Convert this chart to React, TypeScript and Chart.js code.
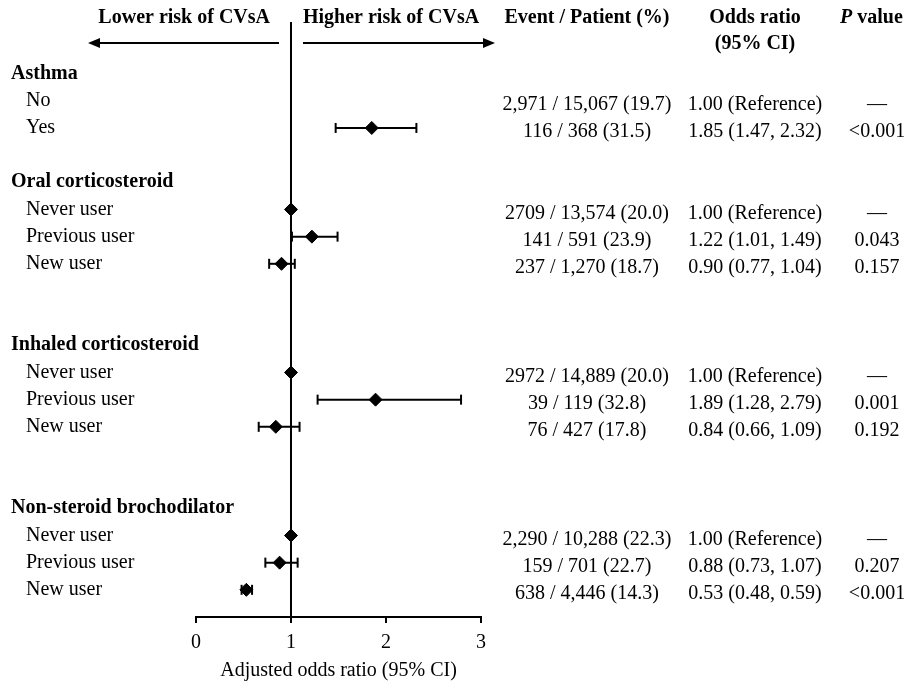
import { useEffect, useRef } from 'react';
import { Chart, registerables } from 'chart.js';

Chart.register(...registerables);

const rowLabels = [
  'Asthma', 'No', 'Yes', '',
  'Oral corticosteroid', 'Never user', 'Previous user', 'New user', '', '',
  'Inhaled corticosteroid', 'Never user', 'Previous user', 'New user', '', '',
  'Non-steroid brochodilator', 'Never user', 'Previous user', 'New user',
];
const headerRows = [0, 4, 10, 16];

const oddsRatio = [null, null, 1.85, null, null, 1.0, 1.22, 0.9, null, null, null, 1.0, 1.89, 0.84, null, null, null, 1.0, 0.88, 0.53];
const ciLower = [null, null, 1.47, null, null, null, 1.01, 0.77, null, null, null, null, 1.28, 0.66, null, null, null, null, 0.73, 0.48];
const ciUpper = [null, null, 2.32, null, null, null, 1.49, 1.04, null, null, null, null, 2.79, 1.09, null, null, null, null, 1.07, 0.59];

const eventPatient = [
  '', '2,971 / 15,067 (19.7)', '116 / 368 (31.5)', '',
  '', '2709 / 13,574 (20.0)', '141 / 591 (23.9)', '237 / 1,270 (18.7)', '', '',
  '', '2972 / 14,889 (20.0)', '39 / 119 (32.8)', '76 / 427 (17.8)', '', '',
  '', '2,290 / 10,288 (22.3)', '159 / 701 (22.7)', '638 / 4,446 (14.3)',
];
const oddsRatioText = [
  '', '1.00 (Reference)', '1.85 (1.47, 2.32)', '',
  '', '1.00 (Reference)', '1.22 (1.01, 1.49)', '0.90 (0.77, 1.04)', '', '',
  '', '1.00 (Reference)', '1.89 (1.28, 2.79)', '0.84 (0.66, 1.09)', '', '',
  '', '1.00 (Reference)', '0.88 (0.73, 1.07)', '0.53 (0.48, 0.59)',
];
const pValueText = [
  '', '\u2014', '<0.001', '',
  '', '\u2014', '0.043', '0.157', '', '',
  '', '\u2014', '0.001', '0.192', '', '',
  '', '\u2014', '0.207', '<0.001',
];

const xTicks = [0, 1, 2, 3];
const xAxisTitle = 'Adjusted odds ratio (95% CI)';
const lowerRiskLabel = 'Lower risk of CVsA';
const higherRiskLabel = 'Higher risk of CVsA';
const eventHeader = 'Event / Patient (%)';
const orHeader = ['Odds ratio', '(95% CI)'];
const pHeader = ['P', ' value'];

const FONT = "'Liberation Serif', 'Times New Roman', serif";
const LABEL_X = 11;
const SUB_LABEL_X = 26;
const EVENT_X = 587;
const OR_X = 755;
const P_X = 877;
const P_HEADER_X = 840;

function drawArrow(ctx: CanvasRenderingContext2D, from: number, to: number, y: number) {
  const dir = Math.sign(to - from);
  const head = 12;
  ctx.beginPath();
  ctx.moveTo(from, y);
  ctx.lineTo(to - dir * head, y);
  ctx.stroke();
  ctx.beginPath();
  ctx.moveTo(to, y);
  ctx.lineTo(to - dir * head, y - 5);
  ctx.lineTo(to - dir * head, y + 5);
  ctx.closePath();
  ctx.fill();
}

export default function App() {
  const ref = useRef<HTMLCanvasElement>(null);

  useEffect(() => {
    const canvas = ref.current;
    if (!canvas) return;

    const diamonds = oddsRatio
      .map((v, i) => (v == null ? null : { x: v, y: i }))
      .filter((p) => p !== null);

    const ciSets: any[] = [];
    ciLower.forEach((lo, i) => {
      const hi = ciUpper[i];
      if (lo == null || hi == null) return;
      ciSets.push({
        type: 'scatter',
        data: [{ x: lo, y: i }, { x: hi, y: i }],
        showLine: true,
        borderColor: '#000',
        borderWidth: 2,
        pointStyle: 'line',
        pointRotation: 90,
        pointRadius: 5,
        pointBorderWidth: 2,
        pointBorderColor: '#000',
        pointBackgroundColor: '#000',
        order: 2,
      });
    });

    const tablePlugin = {
      id: 'forestTable',
      afterDraw(chart: any) {
        const ctx: CanvasRenderingContext2D = chart.ctx;
        const xs = chart.scales.x;
        const ys = chart.scales.y;
        const x1 = xs.getPixelForValue(1);
        ctx.save();
        ctx.fillStyle = '#000';
        ctx.strokeStyle = '#000';
        ctx.textBaseline = 'middle';
        ctx.font = `bold 20px ${FONT}`;
        ctx.textAlign = 'right';
        ctx.fillText(lowerRiskLabel, x1 - 21, 18);
        ctx.textAlign = 'left';
        ctx.fillText(higherRiskLabel, x1 + 12, 18);

        ctx.lineWidth = 2;
        drawArrow(ctx, x1 - 12, x1 - 203, 43);
        drawArrow(ctx, x1 + 12, x1 + 204, 43);

        ctx.textAlign = 'center';
        ctx.fillText(eventHeader, EVENT_X, 18);
        ctx.fillText(orHeader[0], OR_X, 18);
        ctx.fillText(orHeader[1], OR_X, 44);

        ctx.textAlign = 'left';
        ctx.font = `italic bold 20px ${FONT}`;
        ctx.fillText(pHeader[0], P_HEADER_X, 18);
        const pw = ctx.measureText(pHeader[0]).width;
        ctx.font = `bold 20px ${FONT}`;
        ctx.fillText(pHeader[1], P_HEADER_X + pw, 18);

        rowLabels.forEach((label, i) => {
          const yLabel = ys.getPixelForValue(i);
          if (label) {
            const isHeader = headerRows.includes(i);
            ctx.textAlign = 'left';
            ctx.font = `${isHeader ? 'bold ' : ''}20px ${FONT}`;
            ctx.fillText(label, isHeader ? LABEL_X : SUB_LABEL_X, yLabel);
          }
          const y = yLabel + 4;
          ctx.font = `20px ${FONT}`;
          ctx.textAlign = 'center';
          if (eventPatient[i]) ctx.fillText(eventPatient[i], EVENT_X, y);
          if (oddsRatioText[i]) ctx.fillText(oddsRatioText[i], OR_X, y);
          if (pValueText[i]) ctx.fillText(pValueText[i], P_X, y);
        });
        ctx.restore();
      },
    };

    const chart = new Chart(canvas, {
      type: 'scatter',
      data: {
        datasets: [
          {
            type: 'scatter',
            data: diamonds as any,
            pointStyle: 'rectRot',
            pointRadius: 6.5,
            pointBackgroundColor: '#000',
            pointBorderColor: '#000',
            pointBorderWidth: 1,
            order: 1,
          } as any,
          ...ciSets,
        ],
      },
      options: {
        responsive: false,
        animation: false,
        events: [],
        layout: { padding: { left: 0, right: 427, top: 22, bottom: 0 } },
        plugins: { legend: { display: false }, tooltip: { enabled: false } },
        scales: {
          x: {
            type: 'linear',
            min: 0,
            max: 3,
            afterBuildTicks: (s: any) => {
              s.ticks = xTicks.map((v) => ({ value: v }));
            },
            afterFit: (s: any) => {
              s.height = 71;
            },
            grid: {
              color: (c: any) => (c.tick && c.tick.value === 1 ? '#000' : 'rgba(0,0,0,0)'),
              lineWidth: 2,
              drawOnChartArea: true,
              drawTicks: true,
              tickLength: 6,
              tickColor: '#000',
              tickWidth: 2,
            },
            border: { display: true, color: '#000', width: 2 },
            ticks: {
              color: '#000',
              font: { family: FONT, size: 20 },
              padding: 8,
              maxRotation: 0,
              autoSkip: false,
            },
            title: {
              display: true,
              text: xAxisTitle,
              color: '#000',
              font: { family: FONT, size: 20 },
              padding: { top: 4, bottom: 5 },
            },
          },
          y: {
            type: 'linear',
            reverse: true,
            min: -1.9,
            max: 20,
            afterFit: (s: any) => {
              s.width = 196;
            },
            grid: { display: false },
            border: { display: false },
            ticks: { display: false },
          },
        },
      } as any,
      plugins: [tablePlugin],
    });

    return () => chart.destroy();
  }, []);

  return (
    <div style={{ position: 'fixed', left: 0, top: 0, width: 908, height: 688, background: '#fff' }}>
      <canvas ref={ref} width={908} height={688} style={{ display: 'block', width: 908, height: 688 }} />
    </div>
  );
}
